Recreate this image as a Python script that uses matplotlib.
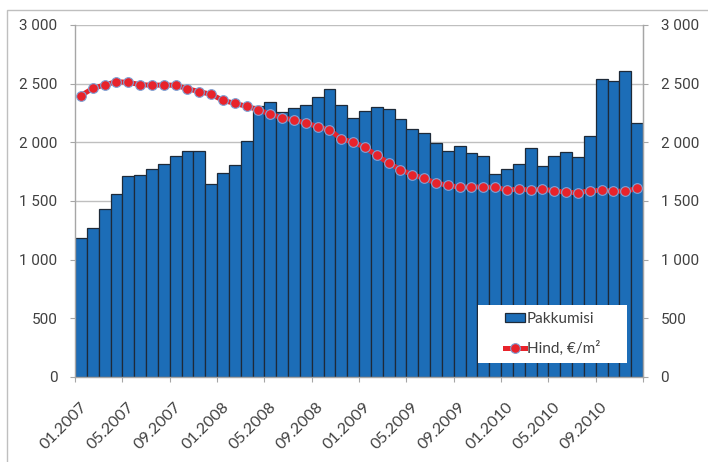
import matplotlib
matplotlib.use("Agg")
import matplotlib.pyplot as plt
import matplotlib.transforms as mtransforms
from matplotlib.patches import Rectangle
import numpy as np

months = [f"{m:02d}.{y}" for y in range(2007, 2011) for m in range(1, 13)]
tick_labels = ["01.2007", "05.2007", "09.2007", "01.2008", "05.2008", "09.2008",
               "01.2009", "05.2009", "09.2009", "01.2010", "05.2010", "09.2010"]

pakkumisi = [1185, 1270, 1435, 1557, 1716, 1725, 1770, 1813, 1886, 1929, 1926, 1645,
             1736, 1804, 2011, 2310, 2347, 2261, 2296, 2315, 2389, 2457, 2315, 2205,
             2270, 2301, 2281, 2196, 2117, 2082, 1997, 1926, 1972, 1912, 1886, 1727,
             1776, 1813, 1949, 1801, 1884, 1921, 1875, 2057, 2543, 2523, 2608, 2162]

hind = [2398, 2460, 2489, 2517, 2511, 2492, 2486, 2489, 2486, 2457, 2432, 2409,
        2358, 2332, 2307, 2278, 2239, 2210, 2190, 2165, 2134, 2108, 2028, 2003,
        1957, 1889, 1824, 1767, 1725, 1693, 1653, 1634, 1617, 1622, 1617, 1617,
        1594, 1602, 1594, 1599, 1588, 1574, 1571, 1588, 1591, 1585, 1582, 1608]

yticks = [0, 500, 1000, 1500, 2000, 2500, 3000]
ytick_labels = ["0", "500", "1 000", "1 500", "2 000", "2 500", "3 000"]

TEXT = "#404040"
GRID = "#BFBFBF"
AX = "#A6A6A6"

fig = plt.figure(figsize=(7.08, 4.62), dpi=100)
# outer border
fig.patches.append(Rectangle((7/708, -0.1), 1.2, (462-10)/462 + 0.1, transform=fig.transFigure,
                             fill=False, edgecolor="#BFBFBF", linewidth=1.0))

ax = fig.add_axes([75/708, 1-377/462, (643-75)/708, (377-25)/462])
x = np.arange(len(months))
bars = ax.bar(x, pakkumisi, width=1.0, color="#1C6DB7", edgecolor="#1E2A38", linewidth=0.9,
              zorder=2, label="Pakkumisi")
line, = ax.plot(x, hind, color="#E8232B", linewidth=3.6, marker="o",
                markersize=7, markerfacecolor="#E8232B", markeredgecolor="#7FA3D6",
                markeredgewidth=0.8, zorder=3, label="Hind, €/m²")

ax.set_xlim(-0.5, len(months) - 0.5)
ax.set_ylim(0, 3000)
ax.set_yticks(yticks)
ax.set_yticklabels(ytick_labels)
ax.grid(axis="y", color=GRID, linewidth=1.0, zorder=0)
ax.set_axisbelow(True)

ax.spines["top"].set_visible(False)
for s in ["left", "right", "bottom"]:
    ax.spines[s].set_color(AX)
    ax.spines[s].set_linewidth(1.0)

ax.tick_params(axis="y", direction="out", length=3.6, color=AX, labelcolor=TEXT,
               labelsize=11, pad=9)
for lbl in ax.get_yticklabels():
    lbl.set_fontfamily("Roboto")

xt = [-0.5 + 4 * k for k in range(13)]
ax.set_xticks(xt)
ax.set_xticklabels(tick_labels + [""])
ax.tick_params(axis="x", direction="out", length=3.6, color=AX, labelcolor=TEXT,
               labelsize=11.5, pad=13)
offset = mtransforms.ScaledTranslation(0.045, 0, fig.dpi_scale_trans)
for lbl in ax.get_xticklabels():
    lbl.set_rotation(45)
    lbl.set_ha("right")
    lbl.set_va("top")
    lbl.set_rotation_mode("anchor")
    lbl.set_fontfamily("Lato")
    lbl.set_transform(lbl.get_transform() + offset)

ax2 = ax.twinx()
ax2.set_ylim(0, 3000)
ax2.set_yticks(yticks)
ax2.set_yticklabels(ytick_labels)
for s in ["top", "left", "bottom"]:
    ax2.spines[s].set_visible(False)
ax2.spines["right"].set_color(AX)
ax2.tick_params(axis="y", direction="out", length=3.6, color=AX, labelcolor=TEXT,
                labelsize=11, pad=9)
for lbl in ax2.get_yticklabels():
    lbl.set_fontfamily("Roboto")

# legend box
ax2.add_patch(Rectangle(((478-75)/568, (377-363)/352), (627-478)/568, (363-305)/352,
                        transform=ax2.transAxes, facecolor="white", edgecolor="none",
                        zorder=4))
leg = ax2.legend([bars, line], ["Pakkumisi", "Hind, €/m²"], loc="center",
                 bbox_to_anchor=((552.5-75)/568, (377-334)/352),
                 frameon=False, prop={"family": "Lato", "size": 11}, handlelength=1.3,
                 handleheight=0.55, handletextpad=0.1, labelspacing=1.0, labelcolor=TEXT)
leg.set_zorder(5)

fig.savefig("out.png", dpi=100)
